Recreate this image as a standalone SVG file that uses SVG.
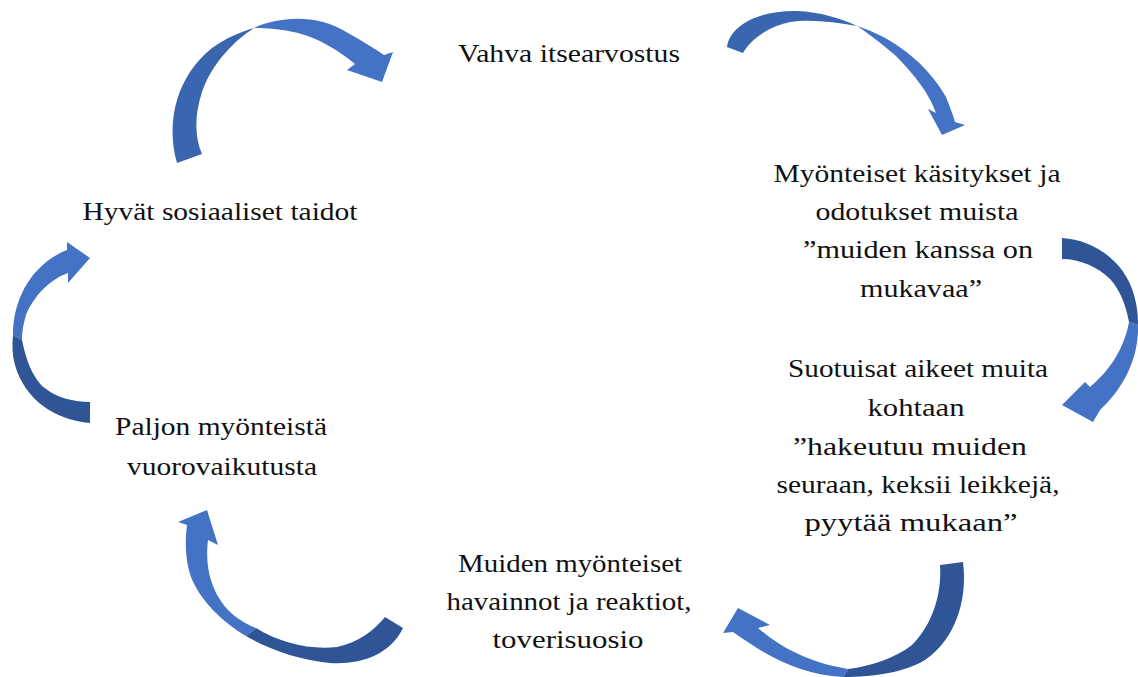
<svg xmlns="http://www.w3.org/2000/svg" width="1138" height="677" viewBox="0 0 1138 677">
<style>
text{font-family:"Liberation Serif","Times New Roman",serif;font-size:25px;fill:#111;text-anchor:middle}
.lt{fill:#4472C4}
.dk{fill:#2F5597}
.md{fill:#3A66B0}
</style>
<rect width="1138" height="677" fill="#fff"/>
<g id="connectors">
<g id="arrow1">
<path class="md" d="M177,163 C165,120 178,75 212,48 C226,38 240,32 254,28 C235,40 212,63 202,92 C194,116 195,138 202,154 Z"/>
<path class="lt" d="M254,28 C280,16 318,14 348,33 C362,41 374,48 384,55 L393,52 L382,82 L347,70 L355,64 C338,50 318,38 298,33 C282,29 266,28 254,28 Z"/>
</g>
<g id="arrow2">
<path class="md" d="M727,47 C730,25 760,10 797,11 C820,12 840,18 857,26 C835,22 810,19 790,22 C770,26 752,38 743,53 Z"/>
<path class="lt" d="M857,26 C892,37 926,62 946,97 C950,107 953,115 955,122 L965,125 L942,135 L928,109 L936,113 C930,95 915,75 896,56 C882,44 868,33 857,26 Z"/>
</g>
<g id="arrow3">
<path class="dk" d="M1062,238 C1095,240 1125,262 1134,295 C1137,305 1138,315 1138,325 L1129,322 C1126,305 1120,290 1110,279 C1098,267 1080,259 1062,259 Z"/>
<path class="lt" d="M1138,325 C1139,360 1122,390 1100,410 L1093,422 L1062,405 L1085,382 L1090,387 C1108,372 1124,350 1129,322 Z"/>
</g>
<g id="arrow4">
<path class="dk" d="M940,565 L963,562 C968,600 955,640 925,660 C905,672 875,677 843,677 L848,669 C872,666 895,658 912,645 C932,625 942,595 940,565 Z"/>
<path class="lt" d="M843,677 C812,676 782,664 757,648 C748,642 740,637 733,632 L723,633 L738,608 L770,625 L758,628 C778,645 805,662 848,669 Z"/>
</g>
<g id="arrow5">
<path class="dk" d="M403,628 C390,655 360,665 330,663 C300,660 270,650 246,636 L256,628 C280,643 310,650 337,647 C357,643 375,630 385,617 Z"/>
<path class="lt" d="M246,636 C222,622 200,600 191,577 C185,560 185,540 187,525 L178,522 L207,510 L218,545 L208,540 C205,565 210,590 228,610 C236,618 246,624 256,628 Z"/>
</g>
<g id="arrow6">
<path class="dk" d="M90,423 C55,420 25,400 15,365 C12,355 12,345 13,335 L22,340 C26,360 32,375 42,386 C55,397 72,402 90,402 Z"/>
<path class="lt" d="M13,335 C13,300 30,268 62,252 L67,250 L67,242 L90,258 L68,283 L68,273 C48,280 33,298 26,315 C23,325 22,333 22,340 Z"/>
</g>
</g>
<g font-family="Liberation Serif, Times New Roman, serif">
<g id="node-vahva">
<text x="569" y="62" textLength="222" lengthAdjust="spacingAndGlyphs">Vahva itsearvostus</text>
</g>
<g id="node-myonteiset">
<text x="917" y="182" textLength="287" lengthAdjust="spacingAndGlyphs">Myönteiset käsitykset ja</text>
<text x="917" y="220" textLength="203" lengthAdjust="spacingAndGlyphs">odotukset muista</text>
<text x="918" y="258" textLength="230" lengthAdjust="spacingAndGlyphs">”muiden kanssa on</text>
<text x="921" y="297" textLength="122" lengthAdjust="spacingAndGlyphs">mukavaa”</text>
</g>
<g id="node-suotuisat">
<text x="918" y="377" textLength="260" lengthAdjust="spacingAndGlyphs">Suotuisat aikeet muita</text>
<text x="916" y="416" textLength="97" lengthAdjust="spacingAndGlyphs">kohtaan</text>
<text x="910" y="455" textLength="234" lengthAdjust="spacingAndGlyphs">”hakeutuu muiden</text>
<text x="918" y="493" textLength="283" lengthAdjust="spacingAndGlyphs">seuraan, keksii leikkejä,</text>
<text x="911" y="531" textLength="213" lengthAdjust="spacingAndGlyphs">pyytää mukaan”</text>
</g>
<g id="node-muiden">
<text x="570" y="572" textLength="224" lengthAdjust="spacingAndGlyphs">Muiden myönteiset</text>
<text x="569" y="610" textLength="245" lengthAdjust="spacingAndGlyphs">havainnot ja reaktiot,</text>
<text x="568" y="648" textLength="151" lengthAdjust="spacingAndGlyphs">toverisuosio</text>
</g>
<g id="node-paljon">
<text x="221" y="435" textLength="212" lengthAdjust="spacingAndGlyphs">Paljon myönteistä</text>
<text x="222" y="475" textLength="190" lengthAdjust="spacingAndGlyphs">vuorovaikutusta</text>
</g>
<g id="node-hyvat">
<text x="220" y="220" textLength="275" lengthAdjust="spacingAndGlyphs">Hyvät sosiaaliset taidot</text>
</g>
</g>
</svg>
